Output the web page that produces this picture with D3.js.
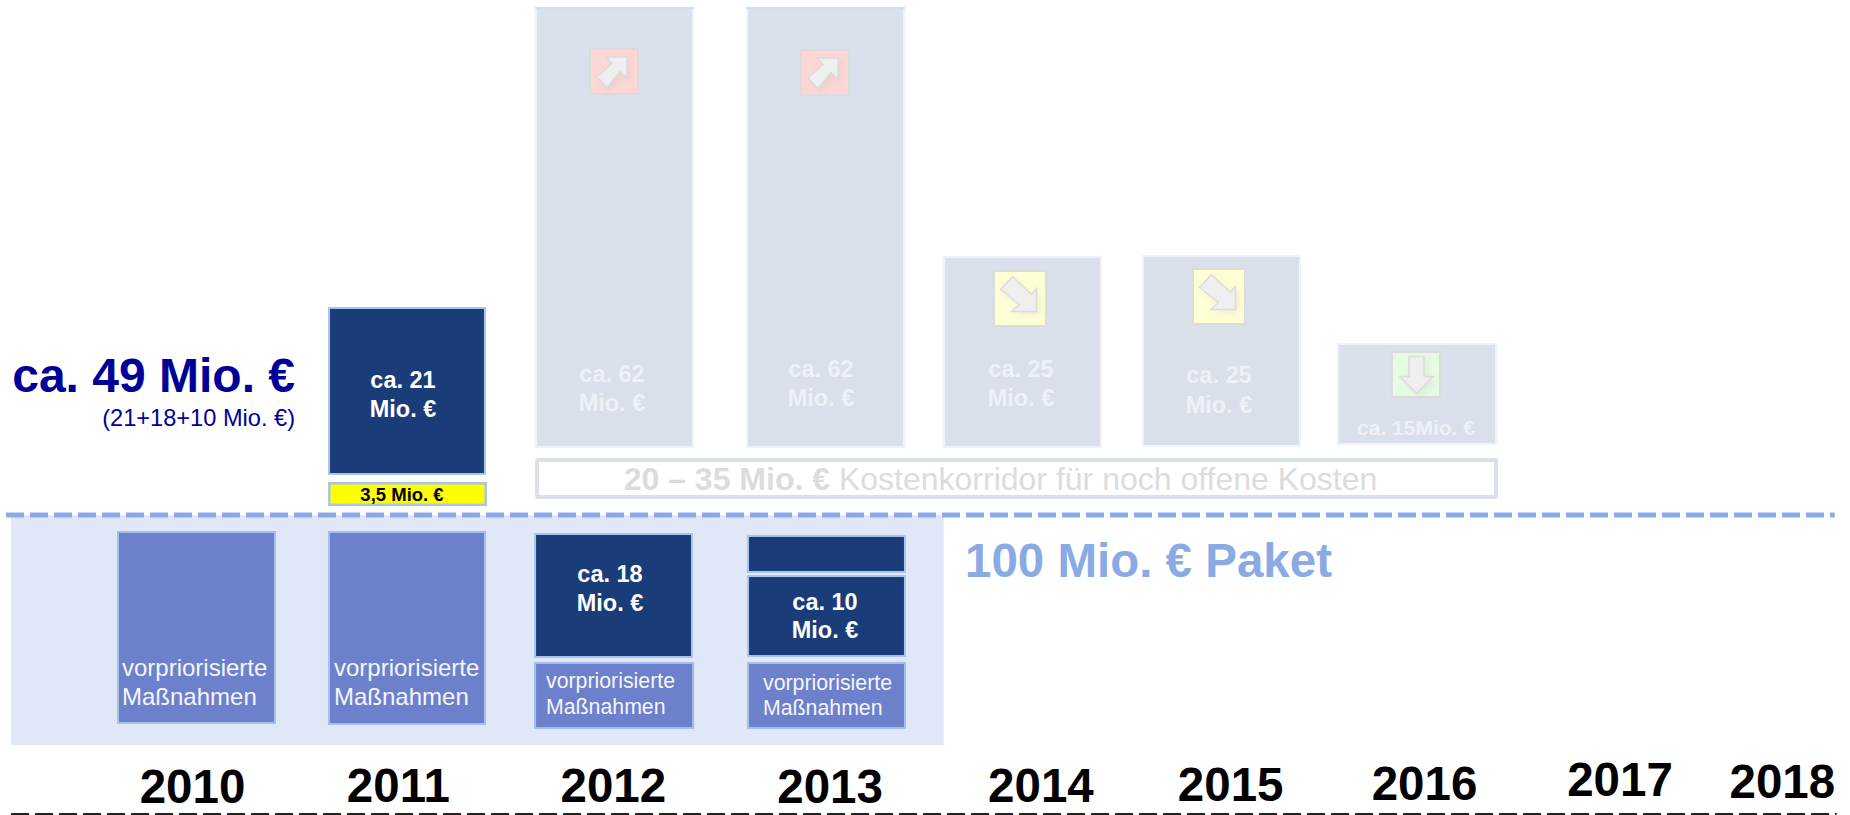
<!DOCTYPE html>
<html><head><meta charset="utf-8">
<script src="https://cdn.jsdelivr.net/npm/d3@7"></script>
<style>
html,body{margin:0;padding:0;background:#fff;overflow:hidden}
svg{display:block}
text{font-family:"Liberation Sans",Arial,sans-serif}
</style></head><body>
<svg id="c" width="1850" height="815"></svg>
<script>
// ---- values (x in fractional years, y in Mio. € stacked from the base of the package) ----
const tickLabels   = ["2010","2011","2012","2013","2014","2015","2016","2017","2018"];
const tickYears    = [2010,2011.035,2012.116,2013.206,2014.266,2015.22,2016.195,2017.178,2017.994];

const prioStart = [2009.623,2010.684,2011.72,2012.791];
const prioEnd   = [2010.422,2011.478,2012.525,2013.59];
const prioLow   = [2.96,2.82,2.25,2.25];
const prioHigh  = [30.14,30.14,11.69,11.69];

const paidStart = [2010.684,2011.72,2012.791,2012.791];
const paidEnd   = [2011.478,2012.519,2013.59,2013.59];
const paidLow   = [38.03,12.25,12.39,24.23];
const paidHigh  = [61.69,29.86,23.94,29.58];
const paidLabel = [["ca. 21","Mio. €"],["ca. 18","Mio. €"],["ca. 10","Mio. €"],[]];

const extraStart = [2010.684], extraEnd = [2011.483], extraLow = [33.66], extraHigh = [37.04];
const extraLabel = ["3,5 Mio. €"];

const planStart = [2011.725,2012.786,2013.776,2014.777,2015.757];
const planEnd   = [2012.524,2013.585,2014.576,2015.576,2016.562];
const planLow   = [41.83,41.83,41.83,41.97,42.25];
const planHigh  = [103.94,103.94,68.87,69.01,56.62];
const planLabel = [["ca. 62","Mio. €"],["ca. 62","Mio. €"],["ca. 25","Mio. €"],["ca. 25","Mio. €"],["ca. 15Mio. €"]];
const planTrend = ["up","up","downRight","downRight","down"];

const corridorLow = 34.65, corridorHigh = 40.42, corridorStart = 2011.725, corridorEnd = 2016.567;
const packageLevel = 32.39, packageBase = 0, packageStart = 2009.09, packageEnd = 2013.78;
const axisLevel = -9.8, axisStart = 2009.09, axisEnd = 2018.27, packageLineEnd = 2018.26, packageLineStart = 2009.065;

// ---- scales ----
const x = d3.scaleLinear().domain([2010,2018]).range([192,1783]);
const y = d3.scaleLinear().domain([0,100]).range([745,35]);
const svg = d3.select("#c");

// ---- layout of the annotations ----
const prioTextX = [122,334,546,763], prioTextY = [[676,705],[676,705],[688,714],[690,715]], prioFont = [24,24,21.3,21.3];
const paidTextX = [403,610,825], paidTextY = [[388,417],[582,611],[610,638]];
const planTextX = [612,821,1021,1219,1416], planTextY = [[382,411],[377,406],[377,406],[383,413],[435]];
const iconBox = [[589,48,50,47],[800,49,50,47],[993,270,54,57],[1192,268,54,57],[1391,351,50,47]];
const trendFill = {up:"#ffd6d6",downRight:"#ffffd6",down:"#e6fce2"};
const arrowShape = {
  up:[[-8,-14.5],[13,-14.5],[13,6.5],[6,0],[-7,16],[-17,5.5],[-2,-8]],
  downRight:[[-19.5,-9],[-7.5,-22],[11.5,-4],[16.5,-10],[16.5,13],[-8.5,13],[-0.5,6]],
  down:[[-7,-18],[8,-18],[8,2],[17,2],[0.5,19],[-16,2],[-7,2]]
};
const tickDrop = [0,-1,-1,0,-1,-2,-3,-7,-5];

const defs = svg.append("defs");
defs.append("filter").attr("id","sh").attr("x","-30%").attr("y","-30%").attr("width","170%").attr("height","170%")
  .append("feDropShadow").attr("dx",3).attr("dy",3).attr("stdDeviation",3).attr("flood-color","#aaa").attr("flood-opacity",.2);

// package background
svg.append("rect").attr("x",x(packageStart)).attr("y",y(packageLevel))
  .attr("width",x(packageEnd)-x(packageStart)).attr("height",y(packageBase)-y(packageLevel)).attr("fill","#e0e7f6");

function bars(cls,start,end,low,high,fill,stroke,sw){
  return svg.append("g").attr("class",cls).selectAll("rect").data(start).join("rect")
    .attr("x",(d,i)=>x(start[i])+sw/2).attr("y",(d,i)=>y(high[i])+sw/2)
    .attr("width",(d,i)=>x(end[i])-x(start[i])-sw).attr("height",(d,i)=>y(low[i])-y(high[i])-sw)
    .attr("fill",fill).attr("stroke",stroke).attr("stroke-width",sw);
}
bars("plan",planStart,planEnd,planLow,planHigh,"#dae0ea","#eef2fb",2);
// faint top edge on the two tall planned bars
svg.append("g").selectAll("line").data([0,1]).join("line")
  .attr("x1",i=>x(planStart[i])).attr("x2",i=>x(planEnd[i]))
  .attr("y1",i=>y(planHigh[i])+1).attr("y2",i=>y(planHigh[i])+1).attr("stroke","#ccd5e8").attr("stroke-width",1.5);
bars("prio",prioStart,prioEnd,prioLow,prioHigh,"#6c80cc","#a5bfec",2);
bars("paid",paidStart,paidEnd,paidLow,paidHigh,"#1a3c78","#a9c4ec",2);
bars("extra",extraStart,extraEnd,extraLow,extraHigh,"#ffff00","#a9c4ec",2.5);

// trend icons
const line = d3.line().curve(d3.curveLinearClosed);
planTrend.forEach((t,i)=>{
  const [bx,by,bw,bh]=iconBox[i];
  svg.append("rect").attr("x",bx+1).attr("y",by+1).attr("width",bw-2).attr("height",bh-2)
    .attr("fill",trendFill[t]).attr("stroke","#dcdcdc").attr("stroke-width",2);
  svg.append("path").attr("transform",`translate(${bx+bw/2},${by+bh/2})`).attr("d",line(arrowShape[t]))
    .attr("fill","#efefef").attr("stroke","#dcdcdc").attr("stroke-width",1.5).attr("filter","url(#sh)");
});

// corridor
svg.append("rect").attr("x",x(corridorStart)+2).attr("y",y(corridorHigh)+2)
  .attr("width",x(corridorEnd)-x(corridorStart)-4).attr("height",y(corridorLow)-y(corridorHigh)-4)
  .attr("fill","#fff").attr("stroke","#d9e0ec").attr("stroke-width",4).attr("rx",1);
const ct = svg.append("text").attr("x",1000.5).attr("y",490).attr("text-anchor","middle")
  .attr("font-size",32).attr("fill","#dcdcdc");
ct.append("tspan").attr("font-weight","bold").text("20 – 35 Mio. €");
ct.append("tspan").text(" Kostenkorridor für noch offene Kosten");

// package dashed line
svg.append("line").attr("x1",x(packageLineStart)).attr("x2",x(packageLineEnd))
  .attr("y1",y(packageLevel)).attr("y2",y(packageLevel))
  .attr("stroke","#8aaae5").attr("stroke-width",5).attr("stroke-dasharray","18 6");

// bar labels
function multi(lines,tx,tys,size,weight,fill,anchor){
  lines.forEach((l,k)=>svg.append("text").attr("x",tx).attr("y",tys[k]).attr("text-anchor",anchor)
    .attr("font-size",size).attr("font-weight",weight).attr("fill",fill).text(l));
}
prioStart.forEach((d,i)=>multi(["vorpriorisierte","Maßnahmen"],prioTextX[i],prioTextY[i],prioFont[i],"normal","#f4f6fc","start"));
paidLabel.forEach((l,i)=>{ if(l.length) multi(l,paidTextX[i],paidTextY[i],23.5,"bold","#fff","middle"); });
planLabel.forEach((l,i)=>multi(l,planTextX[i],planTextY[i],l.length>1?23.5:21,"bold","#eef1f6","middle"));
multi(extraLabel,402,[501],18.5,"bold","#000","middle");

multi(["ca. 49 Mio. €"],295,[392],48,"bold","#000099","end");
multi(["(21+18+10 Mio. €)"],295,[426],23.6,"normal","#000099","end");
multi(["100 Mio. € Paket"],965,[577],47.5,"bold","#8aaae5","start");

// year axis
const axis = d3.axisBottom(x).tickValues(tickYears).tickSize(0).tickFormat((d,i)=>tickLabels[i]);
const ag = svg.append("g").attr("transform","translate(0,803)").call(axis);
ag.select(".domain").remove();
ag.selectAll("text").attr("dy",0).attr("y",(d,i)=>tickDrop[i]).attr("font-size",47.5).attr("font-weight","bold")
  .attr("fill","#000").attr("font-family",'"Liberation Sans",Arial,sans-serif');
svg.append("line").attr("x1",x(axisStart)).attr("x2",x(axisEnd)).attr("y1",y(axisLevel)).attr("y2",y(axisLevel))
  .attr("stroke","#222").attr("stroke-width",3).attr("stroke-dasharray","18 6");
</script>
</body></html>
